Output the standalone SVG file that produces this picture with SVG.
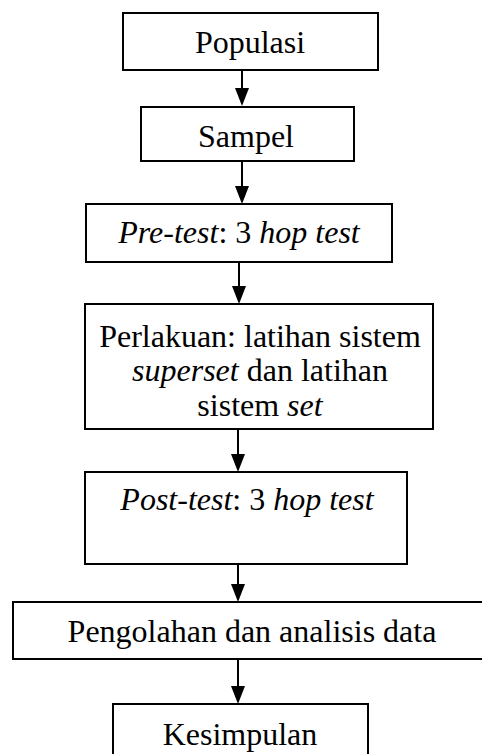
<svg xmlns="http://www.w3.org/2000/svg" width="482" height="754" viewBox="0 0 482 754">
<defs>
<style>
.box{fill:#fff;stroke:#000;stroke-width:2}
.t{font-family:'Liberation Serif','DejaVu Serif',serif;font-size:32px;fill:#000;text-anchor:middle}
.i{font-style:italic}
.c{stroke:#000;stroke-width:2;fill:none}
.h{fill:#000;stroke:none}
</style>
</defs>
<rect width="482" height="754" fill="#fff"/>
<g id="connectors">
<line class="c" x1="242" y1="70" x2="242" y2="92"/><path class="h" d="M235 88 L249 88 L242 106 Z"/>
<line class="c" x1="242" y1="155" x2="242" y2="190"/><path class="h" d="M235 186 L249 186 L242 204 Z"/>
<line class="c" x1="239" y1="262" x2="239" y2="290"/><path class="h" d="M232 286 L246 286 L239 304 Z"/>
<line class="c" x1="238" y1="429" x2="238" y2="458"/><path class="h" d="M231 454 L245 454 L238 472 Z"/>
<line class="c" x1="238" y1="564" x2="238" y2="588"/><path class="h" d="M231 584 L245 584 L238 602 Z"/>
<line class="c" x1="238" y1="659" x2="238" y2="690"/><path class="h" d="M231 686 L245 686 L238 704 Z"/>
</g>
<g id="populasi"><rect class="box" x="123" y="13" width="255" height="57"/><text class="t" font-family="Liberation Serif, serif" x="250" y="53">Populasi</text></g>
<g id="sampel"><rect class="box" x="141" y="107" width="213" height="54"/><text class="t" font-family="Liberation Serif, serif" x="246" y="147">Sampel</text></g>
<g id="pretest"><rect class="box" x="86" y="204" width="306" height="58"/><text class="t" font-family="Liberation Serif, serif" x="239" y="243"><tspan class="i">Pre-test</tspan>: 3 <tspan class="i">hop test</tspan></text></g>
<g id="perlakuan"><rect class="box" x="85" y="304" width="348" height="125"/>
<text class="t" font-family="Liberation Serif, serif" x="260" y="347">Perlakuan: latihan sistem</text>
<text class="t" font-family="Liberation Serif, serif" x="260" y="381"><tspan class="i">superset</tspan> dan latihan</text>
<text class="t" font-family="Liberation Serif, serif" x="260" y="416">sistem <tspan class="i">set</tspan></text></g>
<g id="posttest"><rect class="box" x="85" y="472" width="322" height="92"/><text class="t" font-family="Liberation Serif, serif" x="247" y="510"><tspan class="i">Post-test</tspan>: 3 <tspan class="i">hop test</tspan></text></g>
<g id="pengolahan"><rect class="box" x="13" y="602" width="480" height="57"/><text class="t" font-family="Liberation Serif, serif" x="252" y="642">Pengolahan dan analisis data</text></g>
<g id="kesimpulan"><rect class="box" x="113" y="704" width="255" height="60"/><text class="t" font-family="Liberation Serif, serif" x="240" y="745">Kesimpulan</text></g>
</svg>
